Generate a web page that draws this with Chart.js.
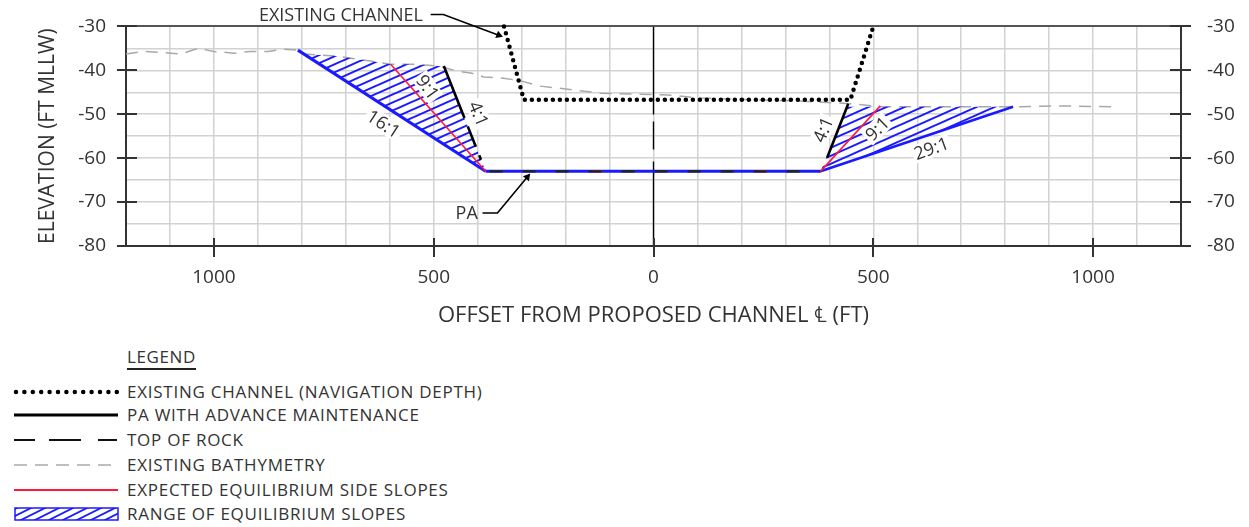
<!DOCTYPE html>
<html>
<head>
<meta charset="utf-8">
<script src="https://cdn.jsdelivr.net/npm/chart.js@4.4.1/dist/chart.umd.min.js"></script>
<style>
  body { margin: 0; background: #fff; font-family: "Open Sans", "Noto Sans", sans-serif; color: #333; }
  #wrap { position: relative; width: 1249px; height: 527px; overflow: hidden; }
  #chartBox { position: absolute; left: 0; top: -11px; width: 1249px; height: 341px; }
  .lg-title { position: absolute; left: 127px; top: 346px; font-size: 17px; line-height: 22px; letter-spacing: 0.6px;
              border-bottom: 2.5px solid #222; padding-bottom: 0; }
  .lg-row { position: absolute; left: 0; height: 22px; width: 700px; }
  .lg-row svg { position: absolute; left: 13px; top: 0; }
  .lg-row span { position: absolute; left: 127px; top: 0; font-size: 17px; line-height: 22px; letter-spacing: 0.75px; white-space: nowrap; }
</style>
</head>
<body>
<div id="wrap">
  <div id="chartBox"><canvas id="section"></canvas></div>

  <div class="lg-title">LEGEND</div>
  <div class="lg-row" style="top:381px">
    <svg width="108" height="22"><line x1="3" y1="11" x2="105" y2="11" stroke="#000" stroke-width="4.5" stroke-linecap="round" stroke-dasharray="0 8.4"/></svg>
    <span>EXISTING CHANNEL (NAVIGATION DEPTH)</span>
  </div>
  <div class="lg-row" style="top:404px">
    <svg width="108" height="22"><line x1="1" y1="11" x2="105" y2="11" stroke="#000" stroke-width="3"/></svg>
    <span>PA WITH ADVANCE MAINTENANCE</span>
  </div>
  <div class="lg-row" style="top:429px">
    <svg width="108" height="22"><line x1="1" y1="11" x2="105" y2="11" stroke="#111" stroke-width="2" stroke-dasharray="21 14 32 17 19"/></svg>
    <span>TOP OF ROCK</span>
  </div>
  <div class="lg-row" style="top:454px">
    <svg width="108" height="22"><line x1="1" y1="11" x2="105" y2="11" stroke="#aaa" stroke-width="1.5" stroke-dasharray="13 8"/></svg>
    <span>EXISTING BATHYMETRY</span>
  </div>
  <div class="lg-row" style="top:479px">
    <svg width="108" height="22"><line x1="1" y1="11" x2="105" y2="11" stroke="#ff1a3a" stroke-width="2"/></svg>
    <span>EXPECTED EQUILIBRIUM SIDE SLOPES</span>
  </div>
  <div class="lg-row" style="top:503px">
    <svg width="108" height="22">
      <defs>
        <pattern id="hp" width="14" height="7" patternUnits="userSpaceOnUse">
          <line x1="-2" y1="8" x2="16" y2="-1" stroke="#1a1aff" stroke-width="1.8"/>
          <line x1="-16" y1="8" x2="2" y2="-1" stroke="#1a1aff" stroke-width="1.8"/>
          <line x1="12" y1="8" x2="30" y2="-1" stroke="#1a1aff" stroke-width="1.8"/>
        </pattern>
      </defs>
      <rect x="2" y="5" width="103" height="12" fill="url(#hp)" stroke="#1a1aff" stroke-width="1.5"/>
    </svg>
    <span>RANGE OF EQUILIBRIUM SLOPES</span>
  </div>
</div>

<script>
// offsets in ft (negative = left of centreline), elevations in ft MLLW
const bathyX = [-1200, -1159, -1098, -1075, -1036, -1000, -955, -916, -877, -841, -809, -795, -718, -643, -598, -545, -491, -445, -416, -386, -341, -302, -257, -195, -120, -45, 32, 107, 220, 334, 448, 516, 818, 925, 1050];
const bathyY = [-36.3, -35.7, -36.1, -36.3, -35.0, -35.7, -36.1, -35.7, -35.7, -35.2, -35.4, -36.3, -36.8, -37.9, -38.6, -38.6, -39.0, -40.2, -40.6, -41.5, -41.8, -42.4, -43.6, -44.3, -45.2, -45.4, -45.6, -46.3, -46.7, -47.0, -47.6, -48.3, -48.3, -48.1, -48.3];

const channelX = [-340, -295, 448, 500];
const channelY = [-30, -46.7, -46.7, -30];

const paLeftX = [-477, -382];
const paLeftY = [-39.0, -63];
const paRightX = [395, 443];
const paRightY = [-59.9, -47.6];

const bottomX = [-382, 380];
const bottomY = [-63, -63];

const slope16X = [-809, -382];
const slope16Y = [-35.4, -63];
const slope29X = [380, 818];
const slope29Y = [-63, -48.3];

const eqLeftX = [-598, -382];
const eqLeftY = [-38.6, -63];
const eqRightX = [380, 516];
const eqRightY = [-63, -48.1];

const rangeLeftX = [-809, -795, -718, -643, -598, -545, -491, -477, -382, -809];
const rangeLeftY = [-35.4, -36.3, -36.8, -37.9, -38.6, -38.6, -39.0, -39.0, -63, -35.4];
const rangeRightX = [380, 443, 818, 380];
const rangeRightY = [-63, -48.3, -48.3, -63];

const centerX = [0, 0];
const centerY = [-30, -80];

const chanLeaderX = [-507, -478, -352];
const chanLeaderY = [-27.3, -27.3, -32.0];
const paLeaderX = [-389, -355, -287];
const paLeaderY = [-72.5, -72.5, -64.3];

const xTickLabels = [-1000, -500, 0, 500, 1000];
const yTickLabels = [-30, -40, -50, -60, -70, -80];

const notes = [
  { text: 'EXISTING CHANNEL', x: -711, y: -27.4, rot: 0, bg: false },
  { text: 'PA', x: -425, y: -72.5, rot: 0, bg: false },
  { text: '16:1', x: -614, y: -52.2, rot: 33, bg: true },
  { text: '9:1', x: -514, y: -43.8, rot: 55, bg: true },
  { text: '4:1', x: -398, y: -49.9, rot: 67, bg: true },
  { text: '4:1', x: 386, y: -53.5, rot: -67, bg: true },
  { text: '9:1', x: 509, y: -53.3, rot: -44, bg: true },
  { text: '29:1', x: 632, y: -57.8, rot: -20, bg: true }
];

function pts(xs, ys) {
  return xs.map((x, i) => ({ x: x, y: ys[i] }));
}

const BLUE = '#1a1aff';
const RED = '#ff1a3a';
const FONT = '"Open Sans", "Noto Sans", sans-serif';

const canvas = document.getElementById('section');
const ctx = canvas.getContext('2d');

function makeHatch() {
  const t = document.createElement('canvas');
  t.width = 18; t.height = 8;
  const g = t.getContext('2d');
  g.strokeStyle = BLUE;
  g.lineWidth = 2;
  for (let k = -1; k <= 1; k++) {
    g.beginPath();
    g.moveTo(-2, 8 + 8 * k + 2 * 8 / 18);
    g.lineTo(20, 8 + 8 * k - 20 * 8 / 18);
    g.stroke();
  }
  return ctx.createPattern(t, 'repeat');
}
const hatch = makeHatch();

function line(data, color, width, extra) {
  return Object.assign({
    data: data,
    borderColor: color,
    borderWidth: width,
    pointRadius: 0,
    fill: false,
    tension: 0,
    yAxisID: 'y'
  }, extra || {});
}

function arrowRadius(c) {
  return c.dataIndex === c.dataset.data.length - 1 ? 4.5 : 0;
}

const datasets = [
  line(pts(chanLeaderX, chanLeaderY), '#000', 1.6, {
    clip: false, pointStyle: 'triangle', pointRadius: arrowRadius,
    pointRotation: 111, pointBackgroundColor: '#000', pointBorderColor: '#000', pointBorderWidth: 0
  }),
  line(pts(paLeaderX, paLeaderY), '#000', 1.6, {
    pointStyle: 'triangle', pointRadius: arrowRadius,
    pointRotation: 40, pointBackgroundColor: '#000', pointBorderColor: '#000', pointBorderWidth: 0
  }),
  line(pts(channelX, channelY), '#000', 4.5, {
    borderDash: [0, 7], borderCapStyle: 'round', borderJoinStyle: 'round', clip: 4
  }),
  line(pts(paLeftX, paLeftY), '#000', 2.6, { borderDash: [56, 9, 22, 9, 5, 40] }),
  line(pts(paRightX, paRightY), '#000', 2.6),
  line(pts(eqLeftX, eqLeftY), RED, 1.6),
  line(pts(eqRightX, eqRightY), RED, 1.6),
  line(pts(bottomX, bottomY), '#222', 2.4, { borderDash: [13, 20], borderDashOffset: 29 }),
  line(pts(bottomX, bottomY), RED, 2.4, { borderDash: [8, 157], borderDashOffset: 57 }),
  line(pts(bottomX, bottomY), BLUE, 3),
  line(pts(slope16X, slope16Y), BLUE, 3),
  line(pts(slope29X, slope29Y), BLUE, 2.6),
  line(pts(centerX, centerY), '#000', 1.4, { borderDash: [88, 7, 28, 12, 300] }),
  line(pts(rangeLeftX, rangeLeftY), 'rgba(0,0,0,0)', 0, { fill: 'shape', backgroundColor: hatch }),
  line(pts(rangeRightX, rangeRightY), 'rgba(0,0,0,0)', 0, { fill: 'shape', backgroundColor: hatch }),
  line(pts(bathyX, bathyY), '#a8a8a8', 1.5, { borderDash: [12, 8] })
];

const sectionMarks = {
  id: 'sectionMarks',
  afterDatasetsDraw(chart) {
    const c = chart.ctx;
    const sx = chart.scales.x, sy = chart.scales.y;
    c.save();
    c.font = '18px ' + FONT;
    c.textAlign = 'center';
    c.textBaseline = 'middle';
    notes.forEach(n => {
      const px = sx.getPixelForValue(n.x);
      const py = sy.getPixelForValue(n.y);
      c.save();
      c.translate(px, py);
      c.rotate(n.rot * Math.PI / 180);
      if (n.bg) {
        const w = c.measureText(n.text).width;
        c.fillStyle = '#fff';
        c.fillRect(-w / 2 - 2, -9, w + 4, 18);
      }
      c.fillStyle = '#333';
      c.fillText(n.text, 0, 1);
      c.restore();
    });
    c.restore();
  },
  afterDraw(chart) {
    const c = chart.ctx;
    const sx = chart.scales.x, sy = chart.scales.y;
    const a = chart.chartArea;
    c.save();
    c.strokeStyle = '#333';
    c.lineWidth = 2;
    c.beginPath();
    yTickLabels.forEach(v => {
      const py = Math.round(sy.getPixelForValue(v));
      c.moveTo(a.left - 9, py); c.lineTo(a.left + 11, py);
      c.moveTo(a.right - 11, py); c.lineTo(a.right + 10, py);
    });
    xTickLabels.forEach(v => {
      const px = Math.round(sx.getPixelForValue(v));
      c.moveTo(px, a.bottom - 8); c.lineTo(px, a.bottom + 11);
    });
    c.stroke();
    c.restore();
  }
};

const tickFont = { family: FONT, size: 19 };

new Chart(ctx, {
  type: 'line',
  data: { datasets: datasets },
  plugins: [sectionMarks],
  options: {
    responsive: true,
    maintainAspectRatio: false,
    animation: false,
    layout: { padding: { top: 14, left: 0, right: 0, bottom: 0 } },
    plugins: { legend: { display: false }, tooltip: { enabled: false } },
    scales: {
      x: {
        type: 'linear',
        position: 'bottom',
        min: -1200,
        max: 1200,
        afterFit: s => { s.height = 84; },
        grid: { color: '#d2d2d2', lineWidth: 1.5, drawTicks: false },
        border: { color: '#333', width: 2 },
        ticks: {
          stepSize: 100, autoSkip: false, maxRotation: 0, padding: 20,
          color: '#333', font: tickFont,
          callback: v => (v % 500 === 0 ? String(Math.abs(v)) : '')
        },
        title: {
          display: true, text: 'OFFSET FROM PROPOSED CHANNEL \u2104 (FT)',
          color: '#333', font: { family: FONT, size: 22 },
          padding: { top: 0, bottom: 1 }
        }
      },
      y: {
        type: 'linear',
        position: 'left',
        min: -80,
        max: -30,
        afterFit: s => { s.width = 126; },
        grid: {
          drawTicks: false,
          color: c => (c.tick && c.tick.value === -30 ? '#555' : '#d2d2d2'),
          lineWidth: c => (c.tick && c.tick.value === -30 ? 2 : 1.5)
        },
        border: { color: '#333', width: 2 },
        ticks: {
          stepSize: 5, autoSkip: false, padding: 20, color: '#333', font: tickFont,
          callback: v => (v % 10 === 0 ? String(v) : '')
        },
        title: {
          display: true, text: 'ELEVATION (FT MLLW)', color: '#333',
          font: { family: FONT, size: 21 },
          padding: { top: 35, bottom: 0 }
        }
      },
      y2: {
        type: 'linear',
        position: 'right',
        min: -80,
        max: -30,
        afterFit: s => { s.width = 68; },
        grid: { display: false, drawTicks: false },
        border: { color: '#333', width: 2 },
        ticks: {
          stepSize: 5, autoSkip: false, padding: 26, color: '#333', font: tickFont,
          callback: v => (v % 10 === 0 ? String(v) : '')
        }
      }
    }
  }
});
</script>
</body>
</html>
